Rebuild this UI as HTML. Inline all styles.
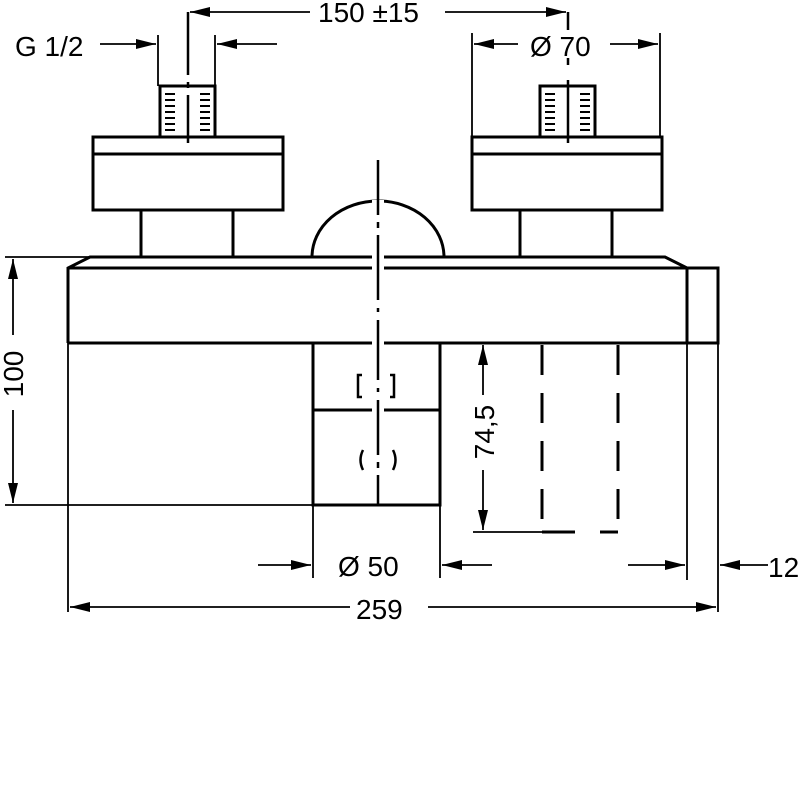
<!DOCTYPE html>
<html><head><style>body{margin:0;background:#fff}svg{display:block}</style></head><body>
<svg width="800" height="800" viewBox="0 0 800 800" xmlns="http://www.w3.org/2000/svg">
<defs>
<marker id="a" viewBox="0 0 20 10" refX="20" refY="5" markerWidth="20" markerHeight="10" markerUnits="userSpaceOnUse" orient="auto"><path d="M0,0 L20,5 L0,10 Z" fill="#000"/></marker>
</defs>
<g fill="none" stroke="#000" stroke-width="3">
<rect x="93" y="137" width="190" height="73"/><line x1="93" y1="154" x2="283" y2="154"/>
<path d="M141,210 V257 M233,210 V257"/>
<rect x="472" y="137" width="190" height="73"/><line x1="472" y1="154" x2="662" y2="154"/>
<path d="M520,210 V257 M612,210 V257"/>
<rect x="160" y="86" width="55" height="51"/>
<rect x="540" y="86" width="55" height="51"/>
</g>
<g stroke="#000" stroke-width="2">
<path d="M165,94h10M165,100h10M165,106h10M165,112h10M165,118h10M165,124h10M165,130h10M200,94h10M200,100h10M200,106h10M200,112h10M200,118h10M200,124h10M200,130h10"/>
<path d="M545,94h10M545,100h10M545,106h10M545,112h10M545,118h10M545,124h10M545,130h10M580,94h10M580,100h10M580,106h10M580,112h10M580,118h10M580,124h10M580,130h10"/>
</g>
<g fill="none" stroke="#000" stroke-width="3">
<path d="M68,343 V268 L90,257 H665 L687,268"/>
<path d="M68,268 H718 V343 H68"/>
<line x1="687" y1="268" x2="687" y2="343"/>
<path d="M312,257 A66,56 0 0 1 444,257"/>
<rect x="313" y="343" width="127" height="162"/>
<line x1="313" y1="410" x2="440" y2="410"/>
<path d="M362,375 h-4 v22 h4 M390,375 h4 v22 h-4" stroke-width="2.5"/>
<path d="M363,450 q-5,10 0,20 M393,450 q5,10 0,20" stroke-width="2.5"/>
<path d="M542,345 V532 M618,345 V532" stroke-dasharray="30,18"/>
<path d="M542,532 H575 M600,532 H618"/>
</g>
<g stroke="#fff" stroke-width="12"><line x1="378" y1="200" x2="378" y2="500"/></g>
<g stroke="#000" stroke-width="2.5" fill="none">
<path d="M378,160 V215 M378,222 V228 M378,235 V300 M378,308 V312 M378,320 V380 M378,388 V392 M378,400 V455 M378,462 V468 M378,475 V505"/>
<path d="M188,12 V75 M188,82 V88 M188,95 V143"/>
<path d="M568,12 V30 M568,58 V65 M568,80 V143"/>
</g>
<g stroke="#000" stroke-width="1.8" fill="none">
<line x1="5" y1="257" x2="90" y2="257"/>
<line x1="5" y1="505" x2="313" y2="505"/>
<line x1="13" y1="335" x2="13" y2="259" marker-end="url(#a)"/>
<line x1="13" y1="410" x2="13" y2="503" marker-end="url(#a)"/>
<line x1="68" y1="343" x2="68" y2="612"/>
<line x1="718" y1="343" x2="718" y2="612"/>
<line x1="687" y1="343" x2="687" y2="580"/>
<line x1="313" y1="505" x2="313" y2="578"/>
<line x1="440" y1="343" x2="440" y2="578"/>
<line x1="350" y1="607" x2="70" y2="607" marker-end="url(#a)"/>
<line x1="428" y1="607" x2="716" y2="607" marker-end="url(#a)"/>
<line x1="258" y1="565" x2="311" y2="565" marker-end="url(#a)"/>
<line x1="492" y1="565" x2="442" y2="565" marker-end="url(#a)"/>
<line x1="628" y1="565" x2="685" y2="565" marker-end="url(#a)"/>
<line x1="768" y1="565" x2="720" y2="565" marker-end="url(#a)"/>
<line x1="473" y1="532" x2="542" y2="532"/>
<line x1="483" y1="395" x2="483" y2="345" marker-end="url(#a)"/>
<line x1="483" y1="470" x2="483" y2="530" marker-end="url(#a)"/>
<line x1="310" y1="12" x2="190" y2="12" marker-end="url(#a)"/>
<line x1="445" y1="12" x2="566" y2="12" marker-end="url(#a)"/>
<line x1="158" y1="35" x2="158" y2="86"/>
<line x1="215" y1="35" x2="215" y2="86"/>
<line x1="100" y1="44" x2="156" y2="44" marker-end="url(#a)"/>
<line x1="277" y1="44" x2="217" y2="44" marker-end="url(#a)"/>
<line x1="472" y1="33" x2="472" y2="137"/>
<line x1="660" y1="33" x2="660" y2="137"/>
<line x1="518" y1="44" x2="474" y2="44" marker-end="url(#a)"/>
<line x1="610" y1="44" x2="658" y2="44" marker-end="url(#a)"/>
</g>
<g font-family="Liberation Sans, sans-serif" font-size="28" fill="#000">
<text x="15" y="56">G 1/2</text>
<text x="318" y="22">150 ±15</text>
<text x="530" y="56">Ø 70</text>
<text x="338" y="576">Ø 50</text>
<text x="356" y="619">259</text>
<text x="768" y="577">12</text>
<text transform="translate(23,374) rotate(-90)" text-anchor="middle">100</text>
<text transform="translate(494,432) rotate(-90)" text-anchor="middle">74,5</text>
</g>
</svg>
</body></html>
